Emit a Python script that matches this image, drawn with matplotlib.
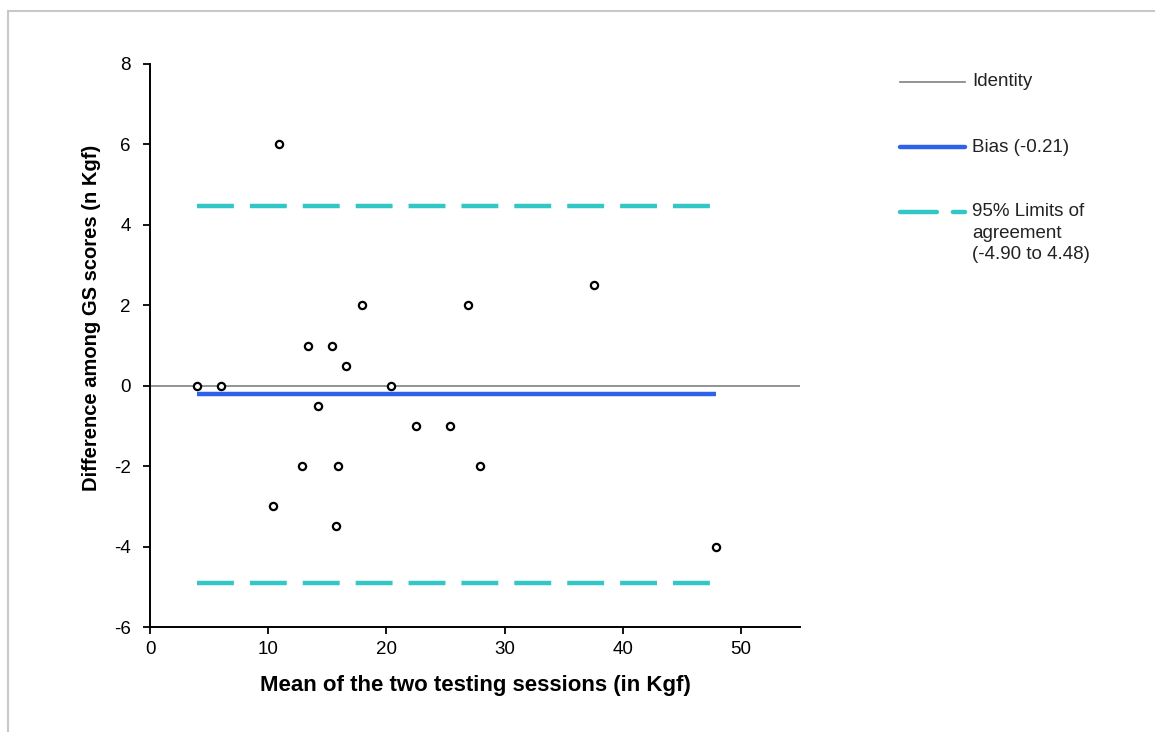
import numpy as np
import matplotlib.pyplot as plt
from matplotlib.lines import Line2D

# values
mean_kgf = [4.0, 6.0, 10.4, 10.9, 12.9, 13.4, 14.2, 15.4, 15.7, 15.9,
            16.6, 17.9, 20.4, 22.5, 25.4, 26.9, 27.9, 37.6, 47.9]
diff_kgf = [0.0, 0.0, -3.0, 6.0, -2.0, 1.0, -0.5, 1.0, -3.5, -2.0,
            0.5, 2.0, 0.0, -1.0, -1.0, 2.0, -2.0, 2.5, -4.0]
bias = -0.21
loa_low, loa_high = -4.90, 4.48

x_ticks = [0, 10, 20, 30, 40, 50]
y_ticks = [-6, -4, -2, 0, 2, 4, 6, 8]

plt.rcParams['font.family'] = ['Liberation Sans', 'DejaVu Sans']
plt.rcParams['axes.unicode_minus'] = False

fig = plt.figure(figsize=(11.55, 7.32), dpi=100)
ax = fig.add_axes([150 / 1155, 1 - 627 / 732, 650 / 1155, 563 / 732])

ident_col = '#808080'
bias_col = '#2E62EA'
loa_col = '#33C6C6'
dash = (8.3, 3.6)

x0, x1 = min(mean_kgf), max(mean_kgf)

ax.axhline(0, color=ident_col, lw=1.2, zorder=1)
ax.plot([x0, x1], [bias, bias], color=bias_col, lw=3.2, solid_capstyle='butt', zorder=2)
for lim in (loa_low, loa_high):
    ax.plot([x0, x1], [lim, lim], color=loa_col, lw=3.2,
            dashes=dash, dash_capstyle='butt', zorder=2)

ax.plot(mean_kgf, diff_kgf, 'o', ms=5.2, mfc='white', mec='black', mew=1.6,
        linestyle='none', zorder=3)

ax.set_xlim(0, 55)
ax.set_ylim(-6, 8)
ax.set_xticks(x_ticks)
ax.set_yticks(y_ticks)
ax.tick_params(direction='out', length=5, width=1.3, labelsize=13.5)
ax.tick_params(axis='y', pad=9)
ax.tick_params(axis='x', pad=5)
for s in ['top', 'right']:
    ax.spines[s].set_visible(False)
for s in ['left', 'bottom']:
    ax.spines[s].set_linewidth(1.4)

ax.set_xlabel('Mean of the two testing sessions (in Kgf)', fontsize=16,
              fontweight='bold', labelpad=12)
ax.set_ylabel('Difference among GS scores (n Kgf)', fontsize=14.5, fontweight='bold')
ax.yaxis.set_label_coords(-0.075, 0.549)

# legend drawn by hand so the multi-line entry lines up like the original
def fy(py):
    return 1 - py / 732

def fx(px):
    return px / 1155

fig.add_artist(Line2D([fx(900), fx(965)], [fy(82), fy(82)], color=ident_col, lw=1.2))
fig.add_artist(Line2D([fx(900), fx(965)], [fy(147), fy(147)], color=bias_col, lw=3.2,
                      solid_capstyle='round'))
fig.add_artist(Line2D([fx(900), fx(965)], [fy(212), fy(212)], color=loa_col, lw=3.2,
                      dashes=dash, dash_capstyle='round'))

leg_kw = dict(fontsize=13.5, va='center', ha='left', color='#222222')
fig.text(fx(972), fy(82), 'Identity', **leg_kw)
fig.text(fx(972), fy(147), 'Bias (-0.21)', **leg_kw)
fig.text(fx(972), fy(212), '95% Limits of', **leg_kw)
fig.text(fx(972), fy(233), 'agreement', **leg_kw)
fig.text(fx(972), fy(254), '(-4.90 to 4.48)', **leg_kw)

# light frame on top and left edges
fig.add_artist(Line2D([fx(8), 1], [fy(11), fy(11)], color='#C8C8C8', lw=1.5))
fig.add_artist(Line2D([fx(8), fx(8)], [0, fy(11)], color='#C8C8C8', lw=1.5))

fig.savefig('out.png', dpi=100)
